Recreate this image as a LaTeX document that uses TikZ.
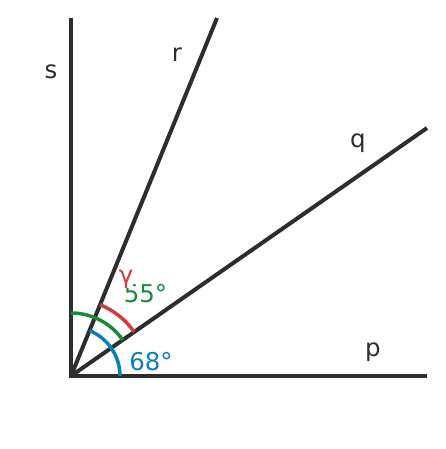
\documentclass[tikz,border=0pt]{standalone}
\usepackage{fontspec}
\setmainfont{DejaVu Sans}
\usetikzlibrary{angles}
\definecolor{linegray}{HTML}{2D2D2D}
\definecolor{arcred}{HTML}{D23C3C}
\definecolor{arcgreen}{HTML}{178A3C}
\definecolor{arcblue}{HTML}{0B80B8}

\begin{document}
\begin{tikzpicture}[x=1pt,y=1pt,
    ray/.style={line width=4pt,draw=linegray},
    label text/.style={font=\fontsize{24.5}{24.5}\selectfont,text=linegray},
    anglemark/.style={line width=3.5pt,draw=#1}]
    \useasboundingbox (0,0) rectangle (445,449);
    % Points
    \coordinate (O) at (71,73);
    \coordinate (S) at (71,431);
    \coordinate (R) at (217,431);
    \coordinate (Q) at (427,321);
    \coordinate (P) at (427,73);

    % Rays
    \draw[ray] (S) -- (O) -- (P);
    \draw[ray] (O) -- (R);
    \draw[ray] (O) -- (Q);

    % Angle arcs
    \pic[anglemark=arcblue,angle radius=49] {angle = P--O--R};
    \pic[anglemark=arcgreen,angle radius=63] {angle = Q--O--S};
    \pic[anglemark=arcred,angle radius=77] {angle = Q--O--R};

    % Labels
    \node (lblS) at (51,377) [label text] {s};
    \node (lblR) at (177,394) [label text] {r};
    \node (lblQ) at (358,306) [label text] {q};
    \node (lblP) at (373,97) [label text] {p};
    \node (lblBlue) at (151,87) [label text,text=arcblue] {68°};
    \node (lblGreen) at (145.5,155) [label text,text=arcgreen] {55°};
    \node (lblRed) at (126,170) [label text,text=arcred,fill=white,inner sep=0pt] {γ};
\end{tikzpicture}
\end{document}
